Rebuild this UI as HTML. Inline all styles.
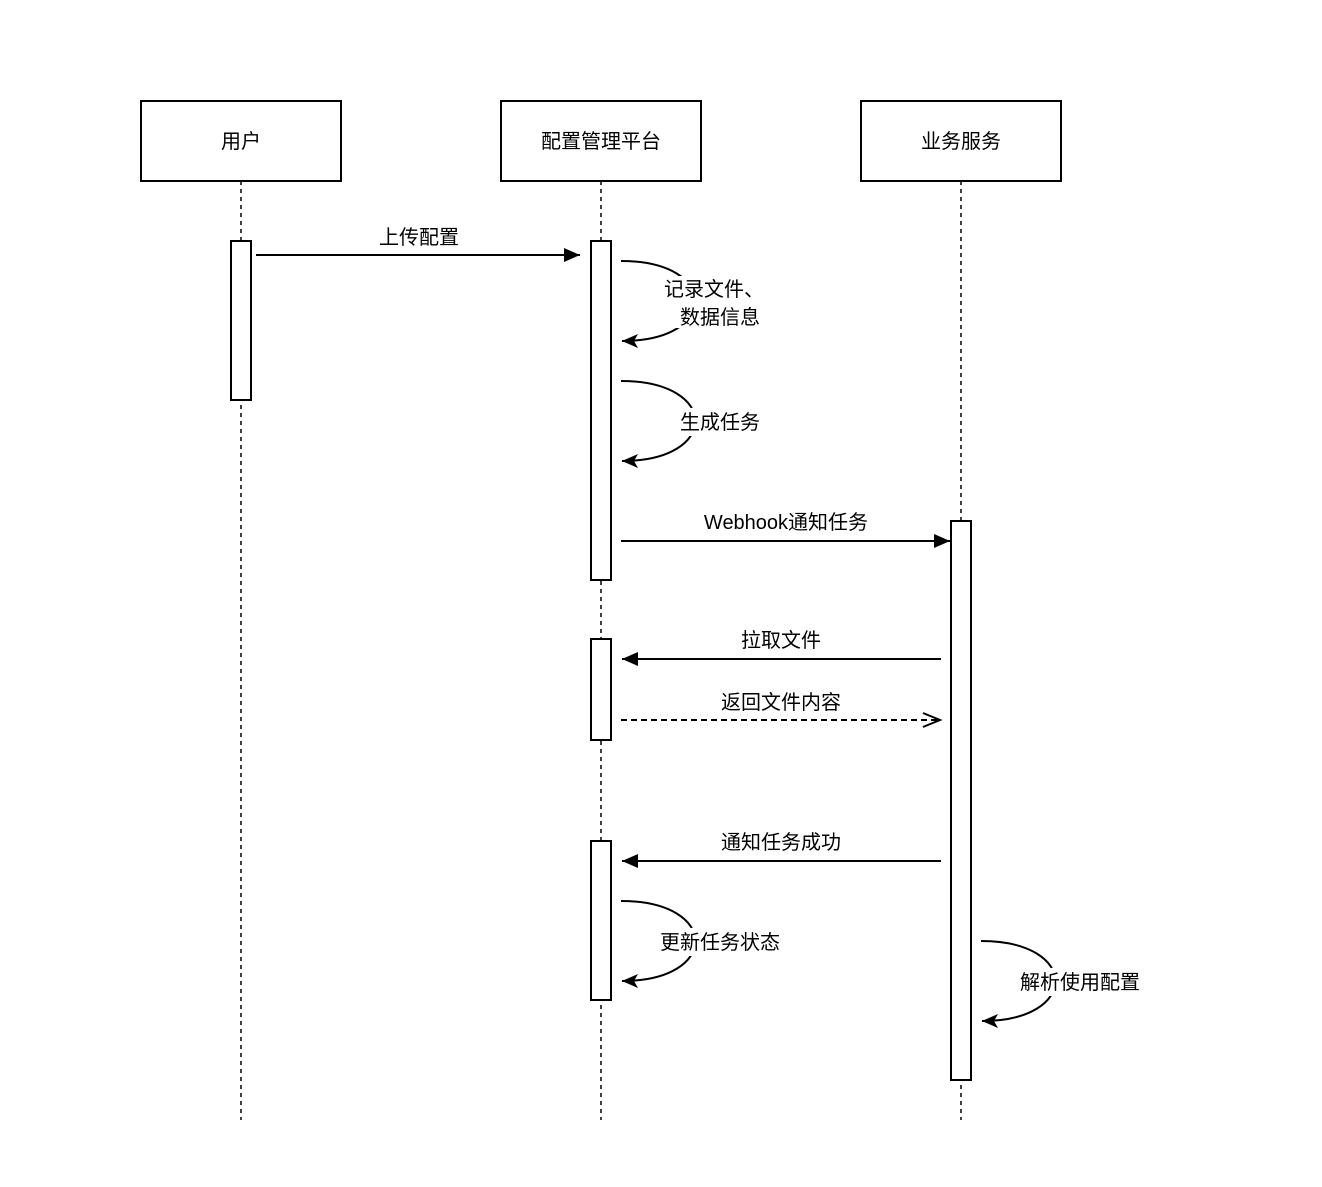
<!DOCTYPE html>
<html><head><meta charset="utf-8"><style>
html,body{margin:0;padding:0;background:#fff;}
svg text{font-family:"Liberation Sans","Noto Sans CJK SC",sans-serif;font-size:20px;fill:#000;}
</style></head><body>
<svg width="1322" height="1182" viewBox="0 0 1322 1182" xmlns="http://www.w3.org/2000/svg">
<defs>
<marker id="f" markerWidth="18" markerHeight="16" refX="16" refY="8" orient="auto" markerUnits="userSpaceOnUse">
<path d="M0,1 L16,8 L0,15 Z" fill="#000"/></marker>
<marker id="c" markerWidth="18" markerHeight="16" refX="16" refY="8" orient="auto" markerUnits="userSpaceOnUse">
<path d="M16,8 L0,1 L4,8 L0,15 Z" fill="#000"/></marker>
<marker id="o" markerWidth="20" markerHeight="16" refX="18" refY="8" orient="auto" markerUnits="userSpaceOnUse">
<path d="M1,1 L18,8 L1,15" fill="none" stroke="#000" stroke-width="2"/></marker>
</defs>
<g fill="none" stroke="#000" stroke-width="1.5" stroke-dasharray="4,4">
<line x1="241" y1="181" x2="241" y2="1120"/>
<line x1="601" y1="181" x2="601" y2="1120"/>
<line x1="961" y1="181" x2="961" y2="1120"/>
</g>
<g fill="#fff" stroke="#000" stroke-width="2">
<rect x="141" y="101" width="200" height="80"/>
<rect x="501" y="101" width="200" height="80"/>
<rect x="861" y="101" width="200" height="80"/>
<rect x="231" y="241" width="20" height="159"/>
<rect x="591" y="241" width="20" height="339"/>
<rect x="591" y="639" width="20" height="101"/>
<rect x="591" y="841" width="20" height="159"/>
<rect x="951" y="521" width="20" height="559"/>
</g>
<g text-anchor="middle">
<text x="241" y="148">用户</text>
<text x="601" y="148">配置管理平台</text>
<text x="961" y="148">业务服务</text>
</g>
<g fill="none" stroke="#000" stroke-width="2">
<line x1="256" y1="255" x2="580" y2="255" marker-end="url(#f)"/>
<path d="M621,261 C720,261 720,341 622,341" marker-end="url(#c)"/>
<path d="M621,381 C720,381 720,461 622,461" marker-end="url(#c)"/>
<line x1="621" y1="541" x2="950" y2="541" marker-end="url(#f)"/>
<line x1="941" y1="659" x2="622" y2="659" marker-end="url(#f)"/>
<line x1="621" y1="720" x2="940" y2="720" stroke-dasharray="6,4" marker-end="url(#o)"/>
<line x1="941" y1="861" x2="622" y2="861" marker-end="url(#f)"/>
<path d="M621,901 C720,901 720,981 622,981" marker-end="url(#c)"/>
<path d="M981,941 C1080,941 1080,1021 982,1021" marker-end="url(#c)"/>
</g>
<g fill="#fff">
<rect x="658" y="276" width="112" height="52"/>
<rect x="670" y="408" width="100" height="28"/>
<rect x="646" y="928" width="150" height="28"/>
<rect x="1006" y="968" width="150" height="28"/>
</g>
<g text-anchor="middle">
<text x="419" y="244">上传配置</text>
<text x="714" y="296">记录文件、</text>
<text x="720" y="324">数据信息</text>
<text x="720" y="429">生成任务</text>
<text x="786" y="529">Webhook通知任务</text>
<text x="781" y="647">拉取文件</text>
<text x="781" y="709">返回文件内容</text>
<text x="781" y="849">通知任务成功</text>
<text x="720" y="949">更新任务状态</text>
<text x="1080" y="989">解析使用配置</text>
</g>
</svg>
</body></html>
